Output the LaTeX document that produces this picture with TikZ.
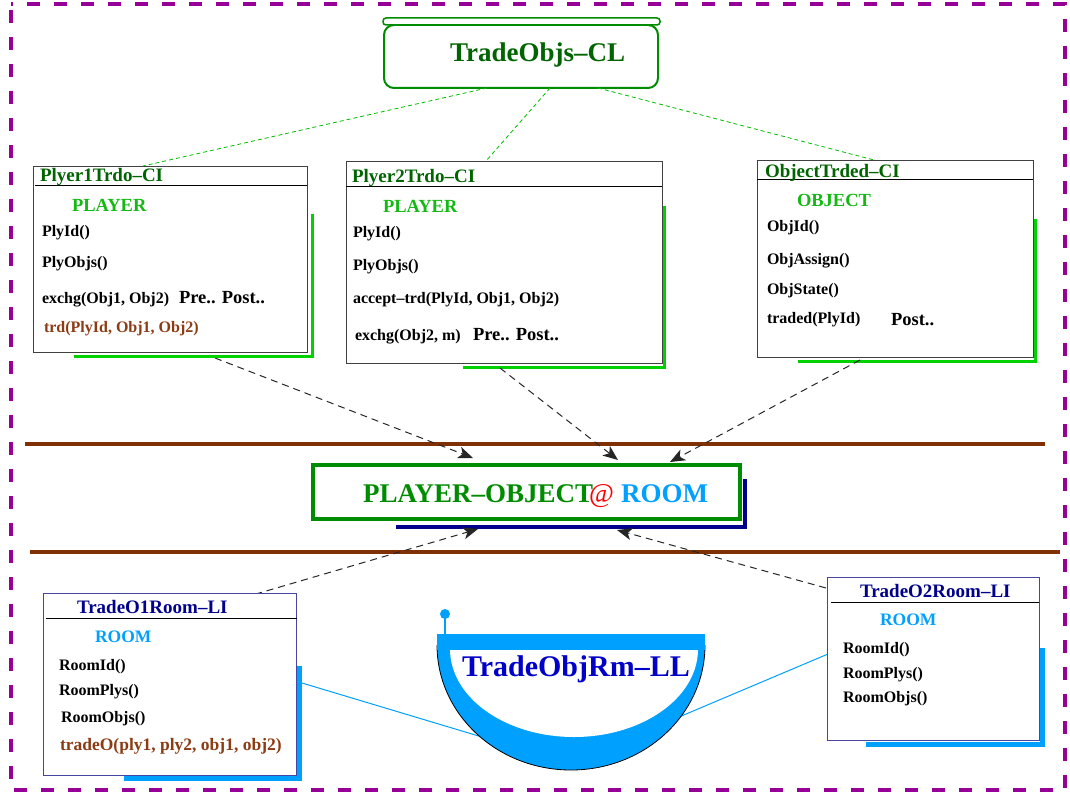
\documentclass[tikz,border=0pt]{standalone}
\usepackage{fontspec}
\setmainfont{Liberation Serif}
\usetikzlibrary{arrows.meta,calc}
\definecolor{purp}{RGB}{150,0,150}
\definecolor{dgreen}{RGB}{0,100,0}
\definecolor{mgreen}{RGB}{0,140,0}
\definecolor{lgreen}{RGB}{20,185,20}
\definecolor{sgreen}{RGB}{0,210,0}
\definecolor{brownl}{RGB}{128,48,5}
\definecolor{brownt}{RGB}{140,60,20}
\definecolor{navyc}{RGB}{0,0,140}
\definecolor{navyb}{RGB}{70,70,160}
\definecolor{skyb}{RGB}{0,160,255}
\definecolor{bowlblue}{RGB}{0,0,200}
\begin{document}
\begin{tikzpicture}[x=1pt,y=-1pt,
  every node/.style={inner sep=0pt,outer sep=0pt},
  cibox/.style={draw=black!75,line width=1pt,anchor=north west},
  libox/.style={draw=navyb,line width=1pt,anchor=north west},
  hdr/.style={anchor=base west,font=\fontsize{19}{21}\selectfont\bfseries},
  kind/.style={anchor=base west,font=\fontsize{18.5}{21}\selectfont\bfseries,text=lgreen},
  meth/.style={anchor=base west,font=\fontsize{16}{18}\selectfont\bfseries},
  cond/.style={anchor=base west,font=\fontsize{18.5}{21}\selectfont\bfseries},
  gshadow/.style={draw=sgreen,line width=3pt},
  cshadow/.style={draw=skyb,line width=5pt},
  glink/.style={draw=sgreen!90!black,line width=0.8pt,dash pattern=on 4pt off 3pt},
  darr/.style={draw=black!85,line width=1pt,dash pattern=on 7pt off 5pt,-{Stealth[length=15pt,width=12pt,inset=4pt]}},
  clink/.style={draw=skyb,line width=1pt}
]
\useasboundingbox (0,0) rectangle (1070,794);
% outer frame
\draw[purp,line width=4pt,dash pattern=on 13pt off 14pt,dash phase=-6pt] (11,4) rectangle (1065,790);
% brown separators
\draw[brownl,line width=4pt] (25,444) -- (1045,444);
\draw[brownl,line width=4pt] (30,552) -- (1060,552);

% top class box
\draw[mgreen,line width=2pt,rounded corners=10pt] (384,25) rectangle (658,88);
\node[draw=mgreen,fill=white,line width=1.5pt,rounded corners=3pt,anchor=north west,minimum width=277pt,minimum height=7pt] (bar) at (383,18) {};
\node (top) [draw=none,anchor=north west,minimum width=274pt,minimum height=63pt] at (384,25) {};
\node[anchor=base west,font=\fontsize{27}{30}\selectfont\bfseries,text=dgreen] (toptxt) at (450,62) {TradeObjs--CL};

% CI boxes shadows
\draw[gshadow] (312,214) -- (312,356) -- (74,356);
\draw[gshadow] (664,206) -- (664,367) -- (463,367);
\draw[gshadow] (1035,219) -- (1035,361) -- (798,361);

% box 1
\node[cibox,fill=white,minimum width=274pt,minimum height=185pt] (b1) at (33,167) {};
\draw[black,line width=1pt] (35,186) -- (307,186);
\node[hdr,text=dgreen] (b1h) at (40,182) {Plyer1Trdo--CI};
\node[kind] (b1k) at (72,212) {PLAYER};
\node[meth] (b1m1) at (42,237) {PlyId()};
\node[meth] (b1m2) at (42,268) {PlyObjs()};
\node[meth] (b1m3) at (42,303) {exchg(Obj1, Obj2)};
\node[cond] (b1c) at (179,303) {Pre.. Post..};
\node[meth,text=brownt] (b1m4) at (44,332) {trd(PlyId, Obj1, Obj2)};

% box 2
\node[cibox,fill=white,minimum width=316pt,minimum height=201pt] (b2) at (346,162) {};
\draw[black,line width=1pt] (346,187) -- (662,187);
\node[hdr,text=dgreen] (b2h) at (352,183) {Plyer2Trdo--CI};
\node[kind] (b2k) at (383,213) {PLAYER};
\node[meth] (b2m1) at (353,238) {PlyId()};
\node[meth] (b2m2) at (353,270) {PlyObjs()};
\node[meth] (b2m3) at (353,303) {accept--trd(PlyId, Obj1, Obj2)};
\node[meth] (b2m4) at (355,340) {exchg(Obj2, m)};
\node[cond] (b2c) at (473,340) {Pre.. Post..};

% box 3
\node[cibox,fill=white,minimum width=276pt,minimum height=196pt] (b3) at (757,161) {};
\draw[black,line width=1pt] (757,180) -- (1033,180);
\node[hdr,text=dgreen] (b3h) at (765,178) {ObjectTrded--CI};
\node[kind] (b3k) at (797,207) {OBJECT};
\node[meth] (b3m1) at (767,232) {ObjId()};
\node[meth] (b3m2) at (767,265) {ObjAssign()};
\node[meth] (b3m3) at (767,294) {ObjState()};
\node[meth] (b3m4) at (767,323) {traded(PlyId)};
\node[cond] (b3c) at (891,325) {Post..};

% green dashed links from the class
\coordinate (t1) at (487,88);
\coordinate (t2) at (550,88);
\coordinate (t3) at (598,88);
\coordinate (e1) at (143,166);
\coordinate (e2) at (486,161);
\coordinate (e3) at (874,160);
\draw[glink] (t1) -- (e1);
\draw[glink] (t2) -- (e2);
\draw[glink] (t3) -- (e3);

% center box
\draw[navyc,line width=4pt] (745,479) -- (745,527) -- (396,527);
\node[draw=mgreen,line width=4pt,fill=white,anchor=north west,minimum width=427pt,minimum height=54pt] (ctr) at (313,465) {};
\node[anchor=base west,font=\fontsize{27}{30}\selectfont\bfseries,text=mgreen] (ct1) at (363,502) {PLAYER--OBJECT};
\node[anchor=base west,font=\fontsize{27}{30}\selectfont,text=red] (ct2) at (589,502) {@};
\node[anchor=base west,font=\fontsize{27}{30}\selectfont\bfseries,text=skyb] (ct3) at (621,502) {ROOM};

% dashed arrows into center
\coordinate (s1) at (215,358);
\coordinate (s2) at (500,368);
\coordinate (s3) at (860,360);
\coordinate (h1) at (473,458);
\coordinate (h2) at (618,460);
\coordinate (h3) at (670,462);
\draw[darr] (s1) -- (h1);
\draw[darr] (s2) -- (h2);
\draw[darr] (s3) -- (h3);
\coordinate (s4) at (232,601);
\coordinate (s5) at (826,588);
\coordinate (h4) at (478,529);
\coordinate (h5) at (617,530);
\draw[darr] (s4) -- (h4);
\draw[darr] (s5) -- (h5);

% cyan links to bowl
\coordinate (c1) at (302,683);
\coordinate (c2) at (482,737);
\coordinate (c3) at (679,717);
\coordinate (c4) at (828,654);
\draw[clink] (c1) -- (c2);
\draw[clink] (c3) -- (c4);

% box 4
\draw[cshadow] (299,666) -- (299,778) -- (124,778);
\node[libox,fill=white,minimum width=253pt,minimum height=182pt] (b4) at (43,593) {};
\draw[black,line width=1pt] (46,618) -- (297,618);
\node[hdr,text=navyc] (b4h) at (77,613) {TradeO1Room--LI};
\node[kind,text=skyb,font=\fontsize{17.5}{20}\selectfont\bfseries] (b4k) at (95,642) {ROOM};
\node[meth] (b4m1) at (59,670) {RoomId()};
\node[meth] (b4m2) at (59,695) {RoomPlys()};
\node[meth] (b4m3) at (61,722) {RoomObjs()};
\node[meth,text=brownt,font=\fontsize{17.5}{20}\selectfont\bfseries] (b4m4) at (60,750) {tradeO(ply1, ply2, obj1, obj2)};

% box 5
\draw[cshadow] (1042,648) -- (1042,744) -- (866,744);
\node[libox,fill=white,minimum width=212pt,minimum height=163pt] (b5) at (827,577) {};
\draw[black,line width=1pt] (831,602) -- (1039,602);
\node[hdr,text=navyc] (b5h) at (860,597) {TradeO2Room--LI};
\node[kind,text=skyb,font=\fontsize{17.5}{20}\selectfont\bfseries] (b5k) at (880,625) {ROOM};
\node[meth] (b5m1) at (843,653) {RoomId()};
\node[meth] (b5m2) at (843,678) {RoomPlys()};
\node[meth] (b5m3) at (843,702) {RoomObjs()};

% bowl
\begin{scope}
\clip (430,645) rectangle (712,782);
\fill[skyb] (571,645) ellipse [x radius=134, y radius=125];
\draw[black,line width=0.8pt] (571,645) ellipse [x radius=134, y radius=125];
\fill[white] (574,649) ellipse [x radius=124, y radius=88];
\end{scope}
\fill[skyb] (437,634) rectangle (705,650);
\draw[skyb,line width=2pt] (445,634) -- (445,616);
\fill[skyb] (445,614) circle [radius=5];
\node[anchor=base west,font=\fontsize{30}{33}\selectfont\bfseries,text=bowlblue] (bowl) at (462,676) {TradeObjRm--LL};
\end{tikzpicture}
\end{document}
